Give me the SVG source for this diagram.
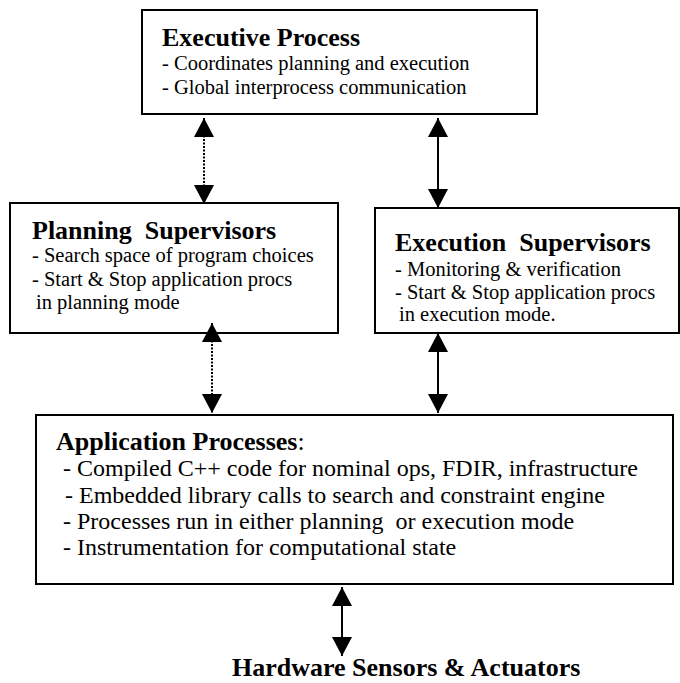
<svg xmlns="http://www.w3.org/2000/svg" width="680" height="683" viewBox="0 0 680 683">
<style>
.box{fill:#fff;stroke:#000;stroke-width:2}
.t{font-family:"Liberation Serif","Times New Roman",serif;fill:#000}
.h{font-weight:bold;font-size:26px}
.b{font-size:20.5px}
.a{font-size:24px}
.ln{stroke:#000;stroke-width:2;fill:none}
.dot{stroke-dasharray:2 1.5}
</style>
<defs>
<marker id="ah" viewBox="0 0 19 20" refX="19" refY="10" markerWidth="19" markerHeight="20" markerUnits="userSpaceOnUse" orient="auto-start-reverse">
<path d="M0,0 L19,10 L0,20 z" fill="#000"/>
</marker>
</defs>
<rect width="680" height="683" fill="#fff"/>
<g id="executive">
<rect class="box" x="142" y="10" width="395" height="104"/>
<text class="t h" x="162" y="46">Executive Process</text>
<text class="t b" x="162" y="70">- Coordinates planning and execution</text>
<text class="t b" x="162" y="94">- Global interprocess communication</text>
</g>
<g id="planning">
<rect class="box" x="10" y="203" width="328" height="130"/>
<text class="t h" x="32" y="239" xml:space="preserve">Planning  Supervisors</text>
<text class="t b" x="32" y="262">- Search space of program choices</text>
<text class="t b" x="32" y="286">- Start &amp; Stop application procs</text>
<text class="t b" x="36" y="309">in planning mode</text>
</g>
<g id="execution">
<rect class="box" x="375" y="208" width="304" height="125"/>
<text class="t h" x="395" y="251" xml:space="preserve">Execution  Supervisors</text>
<text class="t b" x="395" y="276">- Monitoring &amp; verification</text>
<text class="t b" x="395" y="299">- Start &amp; Stop application procs</text>
<text class="t b" x="399" y="321">in execution mode.</text>
</g>
<g id="application">
<rect class="box" x="36" y="415" width="637" height="169"/>
<text class="t h" x="56" y="450">Application Processes<tspan font-weight="normal">:</tspan></text>
<text class="t a" x="63" y="476">- Compiled C++ code for nominal ops, FDIR, infrastructure</text>
<text class="t a" x="65" y="503">- Embedded library calls to search and constraint engine</text>
<text class="t a" x="63" y="529" xml:space="preserve">- Processes run in either planning  or execution mode</text>
<text class="t a" x="63" y="555">- Instrumentation for computational state</text>
</g>
<g id="hardware">
<text class="t h" x="232" y="676">Hardware Sensors &amp; Actuators</text>
</g>
<g id="connectors">
<line class="ln dot" x1="204" y1="118" x2="204" y2="204" marker-start="url(#ah)" marker-end="url(#ah)"/>
<line class="ln" x1="438" y1="118" x2="438" y2="208" marker-start="url(#ah)" marker-end="url(#ah)"/>
<line class="ln dot" x1="212" y1="323" x2="212" y2="413" marker-start="url(#ah)" marker-end="url(#ah)"/>
<line class="ln" x1="438" y1="333" x2="438" y2="413" marker-start="url(#ah)" marker-end="url(#ah)"/>
<line class="ln" x1="342" y1="587" x2="342" y2="656" marker-start="url(#ah)" marker-end="url(#ah)"/>
</g>
</svg>
